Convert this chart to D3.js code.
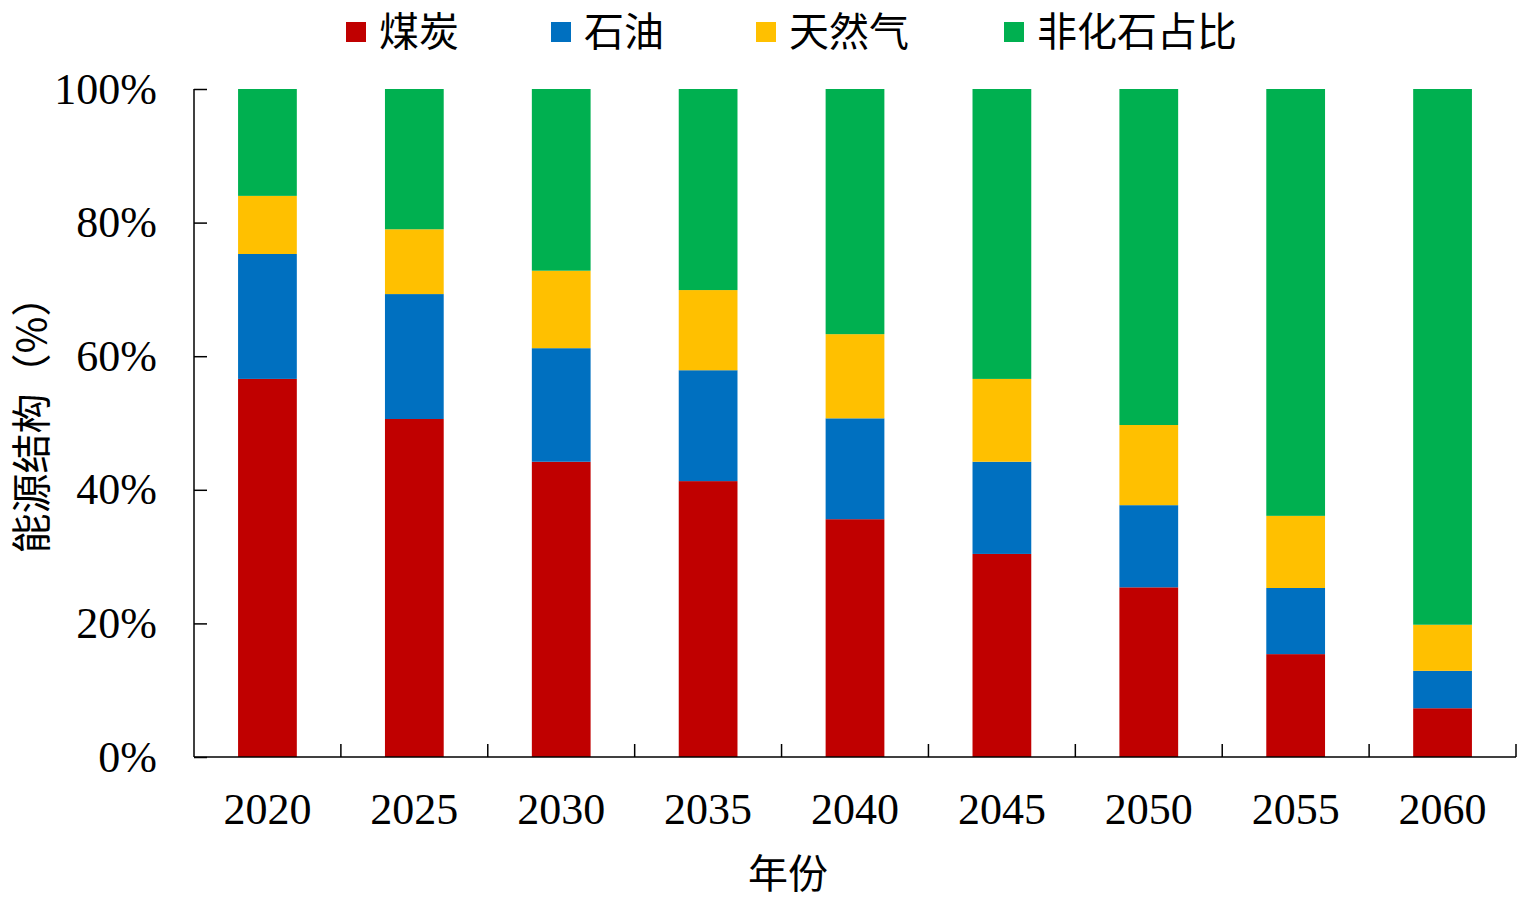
<!DOCTYPE html>
<html lang="zh">
<head>
<meta charset="utf-8">
<title>能源结构</title>
<script src="https://d3js.org/d3.v7.min.js"></script>
<style>
	body{ margin:0; background:#fff; }
	text{ fill:#000; }
</style>
</head>
<body>
<svg id="chart" width="1538" height="902"></svg>
<script>
// data (percent of total)
var years = ["2020","2025","2030","2035","2040","2045","2050","2055","2060"];
var coal = [56.6, 50.6, 44.2, 41.3, 35.6, 30.4, 25.4, 15.4, 7.3];
var oil = [18.7, 18.7, 17.0, 16.6, 15.1, 13.8, 12.3, 9.9, 5.6];
var gas = [8.7, 9.7, 11.6, 12.0, 12.6, 12.4, 12.0, 10.8, 6.9];
var nonFossil = [16.0, 21.0, 27.2, 30.1, 36.7, 43.4, 50.3, 63.9, 80.2];
var seriesNames = ["煤炭","石油","天然气","非化石占比"];
var colors = ["#c00000","#0070c0","#ffc000","#00b050"];
var yTicks = [0, 20, 40, 60, 80, 100];

var serif = "'Liberation Serif','Times New Roman',serif";
var cjk = "'Noto Sans CJK SC','Noto Sans CJK JP',sans-serif";

var svg = d3.select("#chart");
var plotLeft = 194, plotRight = 1516, plotTop = 89, plotBottom = 757;

var table = years.map(function(yr, i){
	return {year:yr, "煤炭":coal[i], "石油":oil[i], "天然气":gas[i], "非化石占比":nonFossil[i]};
});
var stacked = d3.stack().keys(seriesNames)(table);

var x = d3.scaleBand().domain(years).range([plotLeft, plotRight]).paddingInner(0.6).paddingOuter(0.3);
var xb = d3.scaleBand().domain(years).range([plotLeft, plotRight]);
var y = d3.scaleLinear().domain([0, 100]).range([plotBottom, plotTop]);

/** bars */
svg.selectAll("g.layer")
	.data(stacked)
	.enter()
	.append("g")
	.attr("class", "layer")
	.attr("fill", function(d, i){ return colors[i]; })
	.selectAll("rect")
	.data(function(d){ return d; })
	.enter()
	.append("rect")
	.attr("x", function(d){ return x(d.data.year); })
	.attr("width", x.bandwidth())
	.attr("y", function(d){ return y(Math.min(d[1], 100)); })
	.attr("height", function(d){ return y(d[0]) - y(Math.min(d[1], 100)); });

/** y axis, ticks pointing inward */
var yAxis = svg.append("g")
	.attr("transform", "translate(" + plotLeft + ",0)")
	.call(d3.axisLeft(y).tickValues(yTicks).tickSize(-13).tickPadding(37)
		.tickFormat(function(d){ return d + "%"; }));
yAxis.select(".domain").attr("d", "M0," + plotTop + "V" + plotBottom);
yAxis.selectAll("line, path").attr("stroke", "#000").attr("stroke-width", 1.5);
yAxis.selectAll("text").attr("font-family", serif).attr("font-size", 44).attr("fill", "#000");

/** x axis: ticks on band boundaries */
var xAxis = svg.append("g").attr("transform", "translate(0," + plotBottom + ")");
xAxis.append("line").attr("x1", plotLeft).attr("x2", plotRight).attr("stroke", "#000").attr("stroke-width", 1.5);
var bounds = years.slice(1).map(function(d){ return xb(d); }).concat([plotRight]);
xAxis.selectAll("line.tick").data(bounds).enter().append("line")
	.attr("class", "tick")
	.attr("x1", function(d){ return d; }).attr("x2", function(d){ return d; })
	.attr("y1", 0).attr("y2", -13)
	.attr("stroke", "#000").attr("stroke-width", 1.5);
xAxis.selectAll("text").data(years).enter().append("text")
	.attr("x", function(d){ return xb(d) + xb.bandwidth() / 2; })
	.attr("y", 67)
	.attr("text-anchor", "middle")
	.attr("font-family", serif).attr("font-size", 44)
	.text(function(d){ return d; });

/** axis titles */
svg.append("text").attr("x", 788).attr("y", 888).attr("text-anchor", "middle")
	.attr("font-family", cjk).attr("font-size", 40).text("年份");
svg.append("text").attr("transform", "translate(46,415) rotate(-90)").attr("text-anchor", "middle")
	.attr("font-family", cjk).attr("font-size", 40).text("能源结构（%）");

/** legend */
var legendX = [346, 551, 756, 1004];
var legend = svg.selectAll("g.legend").data(seriesNames).enter().append("g")
	.attr("class", "legend")
	.attr("transform", function(d, i){ return "translate(" + legendX[i] + ",22)"; });
legend.append("rect").attr("width", 20).attr("height", 20).attr("fill", function(d, i){ return colors[i]; });
legend.append("text").attr("x", 33).attr("y", 24)
	.attr("font-family", cjk).attr("font-size", 40)
	.text(function(d){ return d; });
</script>
</body>
</html>
